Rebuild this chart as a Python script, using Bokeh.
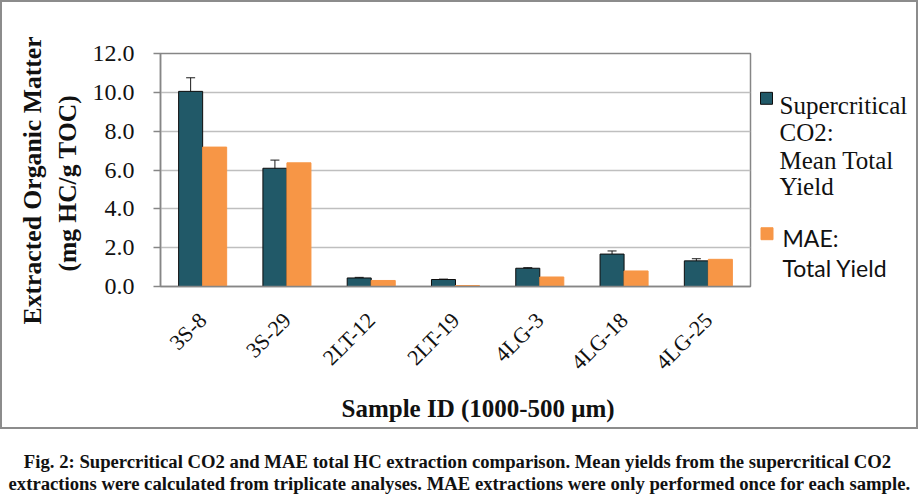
from math import pi
from bokeh.plotting import figure
from bokeh.layouts import column, row
from bokeh.models import (ColumnDataSource, FactorRange, Range1d, FixedTicker,
                          PrintfTickFormatter, Whisker, TeeHead, Title)
from bokeh.core.properties import value
from bokeh.transform import dodge
from bokeh.embed import file_html
from bokeh.resources import INLINE

# ---- data ----
samples = ["3S-8", "3S-29", "2LT-12", "2LT-19", "4LG-3", "4LG-18", "4LG-25"]
sc_co2_mean = [10.05, 6.09, 0.44, 0.36, 0.94, 1.67, 1.32]
sc_co2_err = [0.70, 0.42, 0.03, 0.02, 0.03, 0.16, 0.11]
mae_total = [7.18, 6.37, 0.31, 0.05, 0.49, 0.80, 1.40]
y_ticks = [0, 2, 4, 6, 8, 10, 12]

sc_label_lines = ["Supercritical", "CO2:", "Mean Total", "Yield"]
mae_label_lines = ["MAE:", "Total Yield"]
y_title = ["Extracted Organic Matter", "(mg HC/g TOC)"]
x_title = "Sample ID (1000-500 \u03bcm)"
caption = ["Fig. 2: Supercritical CO2 and MAE total HC extraction comparison. Mean yields from the supercritical CO2",
           "extractions were calculated from triplicate analyses. MAE extractions were only performed once for each sample."]

TEAL = "#215968"
ORANGE = "#F79646"
SERIF = "Liberation Serif"
INK = "#111111"

src = ColumnDataSource(dict(
    cat=samples,
    sc=sc_co2_mean,
    mae=mae_total,
    upper=[m + e for m, e in zip(sc_co2_mean, sc_co2_err)],
    lower=[m - e for m, e in zip(sc_co2_mean, sc_co2_err)],
))

# ---------------- chart figure: canvas origin at page (2, 2) ----------------
CW, CH = 750, 425
FL, FT, FW, FH = 158, 51, 590, 234
BOT = CH - FT - FH

p = figure(width=CW, height=CH, output_backend="svg", toolbar_location=None,
           x_range=FactorRange(factors=samples), y_range=Range1d(0, 12),
           min_border_left=FL, min_border_top=FT,
           min_border_right=CW - FL - FW, min_border_bottom=BOT)

p.outline_line_color = "#868686"
p.outline_line_width = 1.5

bw = 0.285
p.vbar(x=dodge("cat", -bw / 2, range=p.x_range), top="sc", width=bw, source=src,
       fill_color=TEAL, line_color="#0d0d0d", line_width=1)
p.vbar(x=dodge("cat", bw / 2, range=p.x_range), top="mae", width=bw, source=src,
       fill_color=ORANGE, line_color=ORANGE, line_width=1)

wh = Whisker(base=dodge("cat", -bw / 2, range=p.x_range), upper="upper", lower="lower",
             source=src, line_color="#1a1a1a", line_width=1,
             upper_head=TeeHead(size=9, line_color="#1a1a1a", line_width=1),
             lower_head=TeeHead(size=9, line_color="#1a1a1a", line_width=1))
p.add_layout(wh)

p.xgrid.grid_line_color = None
p.ygrid.grid_line_color = "#BFBFBF"
p.ygrid.grid_line_width = 1.5
p.yaxis.ticker = FixedTicker(ticks=y_ticks)
p.yaxis.formatter = PrintfTickFormatter(format="%.1f")
p.yaxis.major_label_text_font = SERIF
p.yaxis.major_label_text_font_size = "24px"
p.yaxis.major_label_text_color = INK
p.yaxis.major_label_standoff = 19
p.yaxis.major_tick_out = 7
p.yaxis.major_tick_in = 0
p.yaxis.minor_tick_line_color = None
p.yaxis.axis_line_color = "#868686"
p.yaxis.axis_line_width = 1.5
p.yaxis.major_tick_line_color = "#868686"
p.yaxis.major_tick_line_width = 1.5

p.xaxis.major_label_orientation = pi / 4
p.xaxis.major_label_text_font = SERIF
p.xaxis.major_label_text_font_size = "22px"
p.xaxis.major_label_text_color = INK
p.xaxis.major_label_standoff = 24
p.xaxis.major_tick_line_color = None
p.xaxis.minor_tick_line_color = None
p.xaxis.axis_line_color = "#868686"
p.xaxis.axis_line_width = 1.5

# axis titles as side-panel titles (left-aligned + offset to place them like the original)
p.add_layout(Title(text=y_title[1], align="left", offset=15, standoff=15,
                   text_font=SERIF, text_font_size="25.5px", text_font_style="bold",
                   text_color=INK), "left")
p.add_layout(Title(text=y_title[0], align="left", offset=-38, standoff=-7,
                   text_font=SERIF, text_font_size="25.7px", text_font_style="bold",
                   text_color=INK), "left")
p.add_layout(Title(text=x_title, align="left", offset=181, standoff=12,
                   text_font=SERIF, text_font_size="25px", text_font_style="bold",
                   text_color=INK), "below")

# ---------------- legend figure (page coordinates) ----------------
LW = 914 - CW
lg = figure(width=LW, height=CH, output_backend="svg", toolbar_location=None,
            x_range=Range1d(752, 752 + LW), y_range=Range1d(FT + 2 + FH, FT + 2),
            x_axis_type=None, y_axis_type=None,
            min_border_left=0, min_border_right=0, min_border_top=FT, min_border_bottom=BOT)
lg.outline_line_color = None
lg.grid.visible = False
lg.rect(x=[766], y=[98], width=12, height=12, fill_color=TEAL, line_color="#0d0d0d", line_width=1)
lg.rect(x=[766.5], y=[234], width=12, height=12, fill_color=ORANGE, line_color=ORANGE, line_width=1)
lg.text(x=[779] * 4, y=[105, 132, 160, 187], text=sc_label_lines,
        text_font=value(SERIF), text_font_size="25px", text_baseline="alphabetic",
        text_align="left", text_color=INK)
lg.text(x=[782] * 2, y=[238, 268], text=mae_label_lines,
        text_font=value("Lato"), text_font_size="23px", text_baseline="alphabetic",
        text_align="left", text_color=INK)

# ---------------- caption figure (page coordinates) ----------------
cap = figure(width=918, height=70, output_backend="svg", toolbar_location=None,
             x_range=Range1d(0, 918), y_range=Range1d(500, 430),
             x_axis_type=None, y_axis_type=None, min_border=0)
cap.outline_line_color = None
cap.grid.visible = False
cap.text(x=[457, 459], y=[462, 484], text=caption,
         text_font=value(SERIF), text_font_size="18.7px", text_font_style="bold",
         text_align="center", text_baseline="alphabetic", text_color=INK)

chart = row(p, lg, spacing=0, styles={"border": "2px solid #8c8c8c"})
layout = column(chart, cap, spacing=0)
open("out.html", "w").write(file_html(layout, INLINE))
